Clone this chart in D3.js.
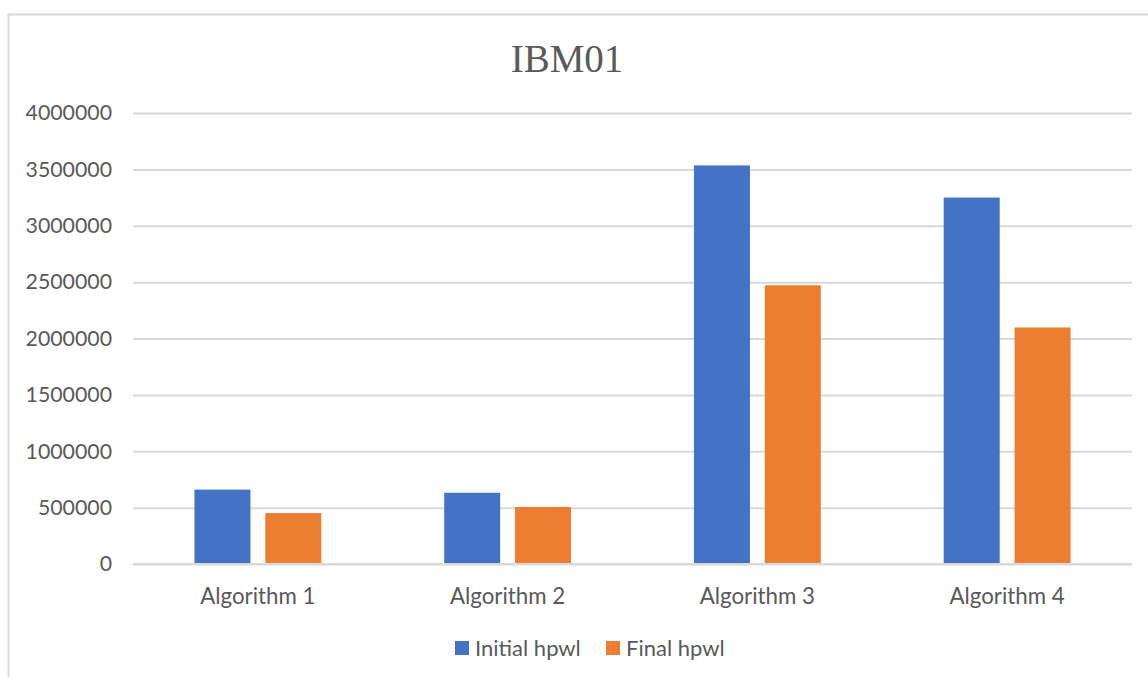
<!DOCTYPE html>
<html>
<head>
<meta charset="utf-8">
<script src="https://cdn.jsdelivr.net/npm/d3@7"></script>
<style>
  html, body { margin: 0; padding: 0; background: #fff; }
  svg { display: block; }
</style>
</head>
<body>
<svg id="chart" width="1148" height="677"></svg>
<script>
// Chart data
const title = "IBM01";
const categories = ["Algorithm 1", "Algorithm 2", "Algorithm 3", "Algorithm 4"];
const seriesNames = ["Initial hpwl", "Final hpwl"];
const initialHpwl = [660000, 632000, 3535000, 3250000];
const finalHpwl = [452000, 506000, 2472000, 2098000];
const yTicks = [0, 500000, 1000000, 1500000, 2000000, 2500000, 3000000, 3500000, 4000000];
const seriesColors = ["#4472C4", "#ED7D31"];

const svg = d3.select("#chart");
const plot = { left: 133, right: 1132, top: 113, bottom: 564 };
const textColor = "#595959";
const gridColor = "#d9d9d9";
const sansFont = "Lato, 'Open Sans', sans-serif";

// Outer chart frame
svg.append("rect")
  .attr("x", 8.5).attr("y", 14.5)
  .attr("width", 1160).attr("height", 700)
  .attr("fill", "#fff")
  .attr("stroke", gridColor).attr("stroke-width", 2);

// Scales
const x0 = d3.scaleBand()
  .domain(categories)
  .range([plot.left, plot.right])
  .paddingInner(0.492).paddingOuter(0.246);
const x1 = d3.scaleBand()
  .domain(seriesNames)
  .range([0, x0.bandwidth()])
  .paddingInner(0.21);
const y = d3.scaleLinear()
  .domain([0, 4000000])
  .range([plot.bottom, plot.top]);

// Gridlines and y labels
const yAxis = d3.axisLeft(y)
  .tickValues(yTicks)
  .tickSize(-(plot.right - plot.left))
  .tickPadding(21)
  .tickFormat(d3.format("d"));
const gy = svg.append("g")
  .attr("transform", `translate(${plot.left},0)`)
  .call(yAxis);
gy.select(".domain").remove();
gy.selectAll(".tick line")
  .attr("stroke", gridColor).attr("stroke-width", 2);
gy.selectAll(".tick text")
  .attr("fill", textColor)
  .attr("font-family", sansFont)
  .attr("font-size", "21.3px");

// Bars
const data = categories.map((c, i) => ({ cat: c, values: [initialHpwl[i], finalHpwl[i]] }));
const groups = svg.append("g").selectAll("g")
  .data(data).join("g")
  .attr("transform", d => `translate(${x0(d.cat)},0)`);
groups.selectAll("rect")
  .data(d => d.values.map((v, j) => ({ name: seriesNames[j], value: v, j })))
  .join("rect")
  .attr("x", d => x1(d.name))
  .attr("y", d => y(d.value))
  .attr("width", x1.bandwidth())
  .attr("height", d => y(0) - y(d.value))
  .attr("fill", d => seriesColors[d.j]);

// Baseline redrawn over bars
svg.append("line")
  .attr("x1", plot.left).attr("x2", plot.right)
  .attr("y1", y(0)).attr("y2", y(0))
  .attr("stroke", gridColor).attr("stroke-width", 2);

// Category axis
const xAxis = d3.axisBottom(x0).tickSize(0).tickPadding(24);
const gx = svg.append("g")
  .attr("transform", `translate(0,${plot.bottom})`)
  .call(xAxis);
gx.select(".domain").remove();
gx.selectAll(".tick text")
  .attr("fill", textColor)
  .attr("font-family", sansFont)
  .attr("font-size", "22.3px");

// Title
svg.append("text")
  .attr("x", 567).attr("y", 72)
  .attr("text-anchor", "middle")
  .attr("fill", textColor)
  .attr("font-family", "'Liberation Serif', 'Times New Roman', serif")
  .attr("font-size", "39px")
  .text(title);

// Legend
const legendItems = [
  { name: seriesNames[0], color: seriesColors[0], x: 455 },
  { name: seriesNames[1], color: seriesColors[1], x: 606 }
];
const lg = svg.append("g");
legendItems.forEach(it => {
  lg.append("rect")
    .attr("x", it.x).attr("y", 641)
    .attr("width", 14).attr("height", 14)
    .attr("fill", it.color);
  lg.append("text")
    .attr("x", it.x + 20).attr("y", 656)
    .attr("fill", textColor)
    .attr("font-family", sansFont)
    .attr("font-size", "22px")
    .text(it.name);
});
</script>
</body>
</html>
